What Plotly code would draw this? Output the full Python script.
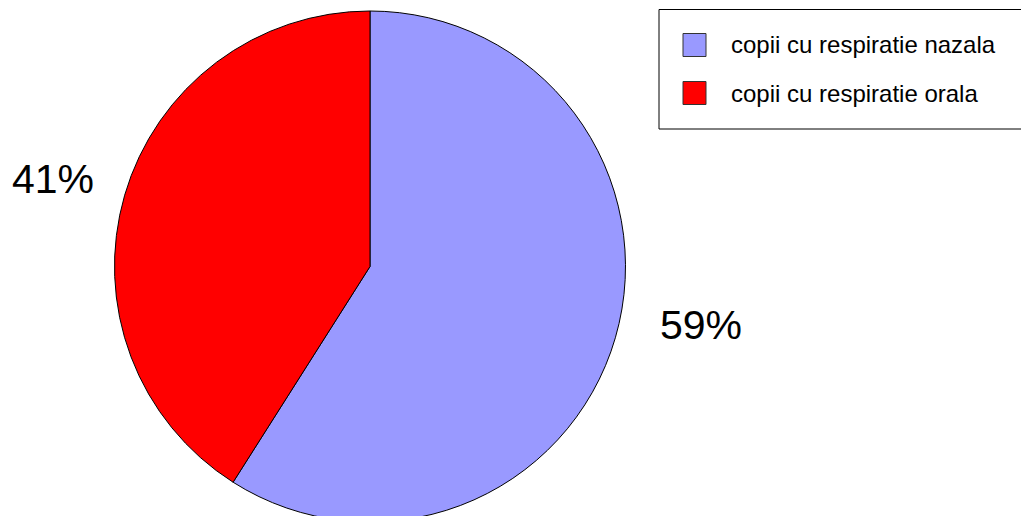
import plotly.graph_objects as go

labels = ["copii cu respiratie nazala", "copii cu respiratie orala"]
values = [59, 41]
colors = ["#9999FF", "#FF0000"]

W, H = 1021, 528
FONT = "Arial, Liberation Sans, sans-serif"

def px(x):
    return x / W

def py(y):
    return 1 - y / H

fig = go.Figure(go.Pie(
    labels=labels,
    values=values,
    marker=dict(colors=colors, line=dict(color="#000000", width=1)),
    sort=False,
    direction="clockwise",
    rotation=0,
    textinfo="none",
    hoverinfo="label+percent",
    showlegend=False,
    domain=dict(x=[px(114.5), px(625.5)], y=[py(522), py(11)]),
))

total = sum(values)
pct = [f"{round(v * 100 / total)}%" for v in values]
label_pos = [(701, 325), (52.5, 179)]
annotations = []
for t, (x, y) in zip(pct, label_pos):
    annotations.append(dict(x=px(x), y=py(y), xref="paper", yref="paper",
                            text=t, showarrow=False, xanchor="center", yanchor="middle",
                            font=dict(family=FONT, size=41, color="#000000")))

shapes = [dict(type="rect", xref="paper", yref="paper",
               x0=px(659), x1=px(1040), y0=py(129), y1=py(9.5),
               line=dict(color="#000000", width=1), fillcolor="white", layer="below")]
row_y = [45, 93]
for lab, col, yc in zip(labels, colors, row_y):
    shapes.append(dict(type="rect", xref="paper", yref="paper",
                       x0=px(683), x1=px(706), y0=py(yc + 11.5), y1=py(yc - 11.5),
                       line=dict(color="#333333", width=1), fillcolor=col))
    annotations.append(dict(x=px(729), y=py(yc), xref="paper", yref="paper",
                            text=lab, showarrow=False, xanchor="left", yanchor="middle",
                            font=dict(family=FONT, size=24, color="#000000")))

fig.update_layout(
    width=W, height=H,
    margin=dict(l=0, r=0, t=0, b=0),
    paper_bgcolor="white", plot_bgcolor="white",
    shapes=shapes, annotations=annotations,
)

fig.write_html("out.html",
               post_script="document.documentElement.style.overflow='hidden';document.body.style.overflow='hidden';")
